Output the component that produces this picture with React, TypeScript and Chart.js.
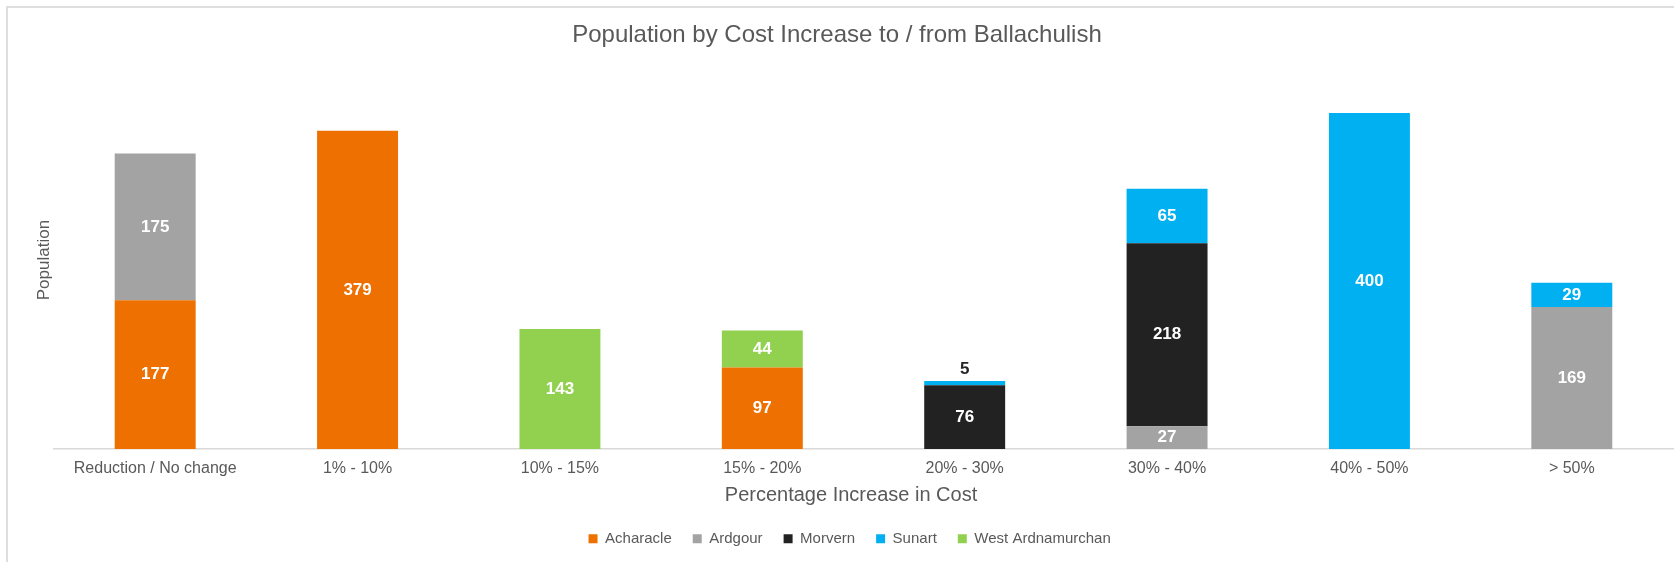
import React, { useEffect, useRef } from 'react';
import { Chart, registerables } from 'chart.js';

Chart.register(...registerables);

const categories = [
  'Reduction / No change',
  '1% - 10%',
  '10% - 15%',
  '15% - 20%',
  '20% - 30%',
  '30% - 40%',
  '40% - 50%',
  '> 50%',
];

const acharacle = [177, 379, null, 97, null, null, null, null];
const ardgour = [175, null, null, null, null, 27, null, 169];
const morvern = [null, null, null, null, 76, 218, null, null];
const sunart = [null, null, null, null, 5, 65, 400, 29];
const westArdnamurchan = [null, null, 143, 44, null, null, null, null];

const seriesNames = ['Acharacle', 'Ardgour', 'Morvern', 'Sunart', 'West Ardnamurchan'];
const seriesValues = [acharacle, ardgour, morvern, sunart, westArdnamurchan];
const seriesColors = ['#ED7000', '#A3A3A3', '#222222', '#00B0F0', '#92D050'];

const chartTitle = 'Population by Cost Increase to / from Ballachulish';
const xAxisTitle = 'Percentage Increase in Cost';
const yAxisTitle = 'Population';
const yMax = 450;

const FONT = '"Liberation Sans", Arial, sans-serif';
const TEXT = '#595959';

// Value labels inside / above each stacked segment
const valueLabels = {
  id: 'valueLabels',
  afterDatasetsDraw(chart: any) {
    const ctx = chart.ctx;
    ctx.save();
    ctx.font = `bold 17px ${FONT}`;
    ctx.textAlign = 'center';
    ctx.textBaseline = 'middle';
    chart.data.datasets.forEach((ds: any, i: number) => {
      const meta = chart.getDatasetMeta(i);
      if (meta.hidden) return;
      meta.data.forEach((el: any, j: number) => {
        const v = ds.data[j];
        if (v == null) return;
        const { x, y, base } = el.getProps(['x', 'y', 'base'], true);
        const h = Math.abs(base - y);
        if (h < 18) {
          ctx.fillStyle = '#262626';
          ctx.fillText(String(v), x, y - 12);
        } else {
          ctx.fillStyle = '#FFFFFF';
          ctx.fillText(String(v), x, (y + base) / 2);
        }
      });
    });
    ctx.restore();
  },
};

// Chart title and x-axis title, placed like the original (Excel-style) layout
const titles = {
  id: 'titles',
  afterDraw(chart: any) {
    const ctx = chart.ctx;
    ctx.save();
    ctx.fillStyle = TEXT;
    ctx.textAlign = 'center';
    ctx.textBaseline = 'middle';
    ctx.font = `24px ${FONT}`;
    ctx.fillText(chartTitle, chart.width / 2, 35);
    const xs = chart.scales.x;
    ctx.font = `20px ${FONT}`;
    ctx.fillText(xAxisTitle, (chart.width + 28) / 2, xs.top + 46);
    ctx.restore();
  },
};

export default function App() {
  const ref = useRef<HTMLCanvasElement | null>(null);

  useEffect(() => {
    if (!ref.current) return;
    const chart = new Chart(ref.current, {
      type: 'bar',
      data: {
        labels: categories,
        datasets: seriesNames.map((name, i) => ({
          label: name,
          data: seriesValues[i],
          backgroundColor: seriesColors[i],
          borderWidth: 0,
          categoryPercentage: 0.8,
          barPercentage: 0.5,
        })),
      },
      options: {
        responsive: false,
        animation: false,
        devicePixelRatio: 1,
        layout: { padding: { left: 26.3, right: 1, top: 71.1, bottom: 5.8 } },
        plugins: {
          title: { display: false },
          legend: {
            position: 'bottom',
            labels: {
              color: TEXT,
              font: { family: FONT, size: 15 },
              boxWidth: 9,
              boxHeight: 9,
              padding: 21,
            },
          },
          tooltip: { enabled: false },
        },
        scales: {
          x: {
            stacked: true,
            grid: { display: false, drawTicks: false },
            border: { display: true, color: '#D9D9D9', width: 1.5 },
            ticks: {
              color: TEXT,
              font: { family: FONT, size: 16 },
              padding: 10,
              autoSkip: false,
              maxRotation: 0,
            },
            title: { display: false },
            afterFit(scale: any) {
              scale.height += 22;
            },
          },
          y: {
            stacked: true,
            min: 0,
            max: yMax,
            grid: { display: false, drawTicks: false },
            border: { display: false },
            ticks: { display: false },
            title: {
              display: true,
              text: yAxisTitle,
              color: TEXT,
              font: { family: FONT, size: 17 },
              padding: { top: 7.5, bottom: -0.2 },
            },
          },
        },
      },
      plugins: [valueLabels, titles],
    });
    return () => chart.destroy();
  }, []);

  return (
    <div
      style={{
        position: 'fixed',
        left: 0,
        top: 0,
        width: 1674,
        height: 562,
        overflow: 'hidden',
        background: '#FFFFFF',
      }}
    >
      <div
        style={{
          position: 'absolute',
          left: 6,
          top: 6,
          width: 3000,
          height: 3000,
          border: '2px solid #DEDEDE',
        }}
      />
      <canvas
        ref={ref}
        width={1674}
        height={562}
        style={{ position: 'absolute', left: 0, top: 0, width: 1674, height: 562 }}
      />
    </div>
  );
}
